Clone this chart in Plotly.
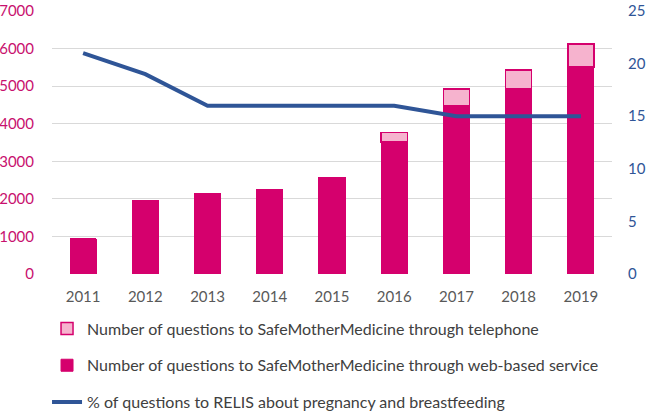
import plotly.graph_objects as go

years = ["2011", "2012", "2013", "2014", "2015", "2016", "2017", "2018", "2019"]
web_based = [930, 1950, 2130, 2250, 2560, 3520, 4480, 4940, 5510]
telephone = [0, 0, 0, 0, 0, 250, 440, 490, 610]
pct_relis = [21, 19, 16, 16, 16, 16, 15, 15, 15]

left_ticks = [0, 1000, 2000, 3000, 4000, 5000, 6000, 7000]
right_ticks = [0, 5, 10, 15, 20, 25]

MAGENTA = "#D5006D"
PINK = "#F6B3CE"
BLUE = "#2F5597"
FONT = "Lato"

fig = go.Figure()
fig.add_trace(go.Bar(
    x=years, y=web_based,
    name="Number of questions to SafeMotherMedicine through web-based service",
    marker=dict(color=MAGENTA, line=dict(color=MAGENTA, width=1)),
    legendrank=2, legendgroup="b",
))
fig.add_trace(go.Bar(
    x=years, y=telephone,
    name="Number of questions to SafeMotherMedicine through telephone",
    marker=dict(color=PINK, line=dict(color=MAGENTA, width=1.5)),
    legendrank=1, legendgroup="a",
))
fig.add_trace(go.Scatter(
    x=years, y=pct_relis, yaxis="y2", mode="lines",
    name="% of questions to RELIS about pregnancy and breastfeeding",
    line=dict(color=BLUE, width=4),
    legendrank=3, legendgroup="c",
))

fig.update_layout(
    width=646, height=411,
    margin=dict(l=52, r=34, t=11, b=137, autoexpand=False),
    barmode="stack", bargap=0.58,
    plot_bgcolor="white", paper_bgcolor="white",
    font=dict(family=FONT, size=15, color="#595959"),
    xaxis=dict(
        type="category", showgrid=False, showline=False, zeroline=False,
        tickfont=dict(size=15, color="#595959"), ticklabelstandoff=12,
    ),
    yaxis=dict(
        range=[0, 7000], tickvals=left_ticks, showgrid=True, gridcolor="#D9D9D9",
        gridwidth=1.3, zeroline=False, showline=False,
        tickfont=dict(size=15, color="#C8106E"), ticklabelstandoff=17,
    ),
    yaxis2=dict(
        range=[0, 25], tickvals=right_ticks, overlaying="y", side="right",
        showgrid=False, zeroline=False, showline=False,
        tickfont=dict(size=15, color="#2F5597"), ticklabelstandoff=15,
    ),
    legend=dict(
        xref="container", yref="container",
        x=0.0728, y=0.242, xanchor="left", yanchor="top",
        orientation="v", tracegroupgap=13,
        font=dict(size=16, color="#404040"),
        bgcolor="rgba(0,0,0,0)",
    ),
    showlegend=True,
)

fig.write_html(
    "out.html",
    config={"displayModeBar": False},
    post_script="document.body.style.margin='0';document.body.style.overflow='hidden';",
)
